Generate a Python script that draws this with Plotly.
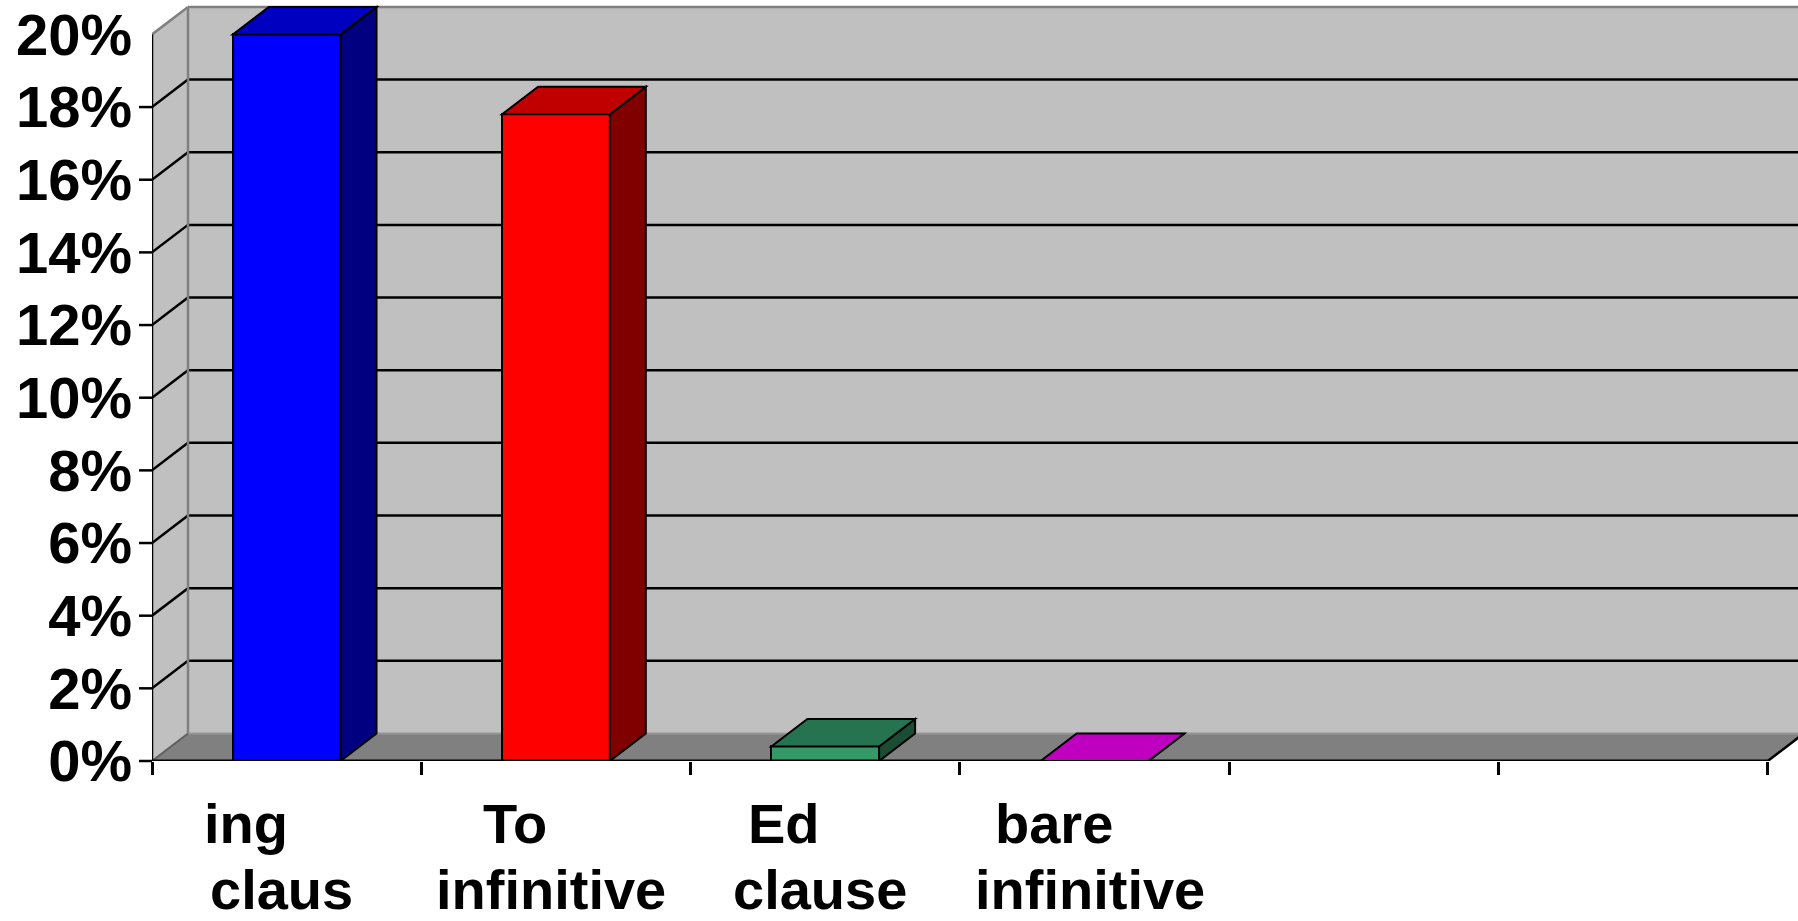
import plotly.graph_objects as go

# ---- data -------------------------------------------------------------
categories = ["ing claus", "To infinitive", "Ed clause", "bare infinitive"]
values = [20.0, 17.8, 0.4, 0.0]            # percent
front_colors = ["#0000FF", "#FF0000", "#339966", "#FF00FF"]
top_colors = ["#0000C0", "#C00000", "#267350", "#C000C0"]
side_colors = ["#000080", "#800000", "#1A4D33", "#800080"]
y_ticks = list(range(0, 21, 2))
n_slots = 6                                 # category slots on the floor

# ---- geometry ---------------------------------------------------------
W, H = 1798, 921
M_L, M_B = 152, 160
plot_w, plot_h = W - M_L, H - M_B
px_per_cat = 269.3
px_per_pct = 36.33
x_min = -0.5
x_end = x_min + n_slots                     # right end of the floor front edge
x_max = x_min + plot_w / px_per_cat
y_max = plot_h / px_per_pct
y_top = y_ticks[-1]
dx = 36 / px_per_cat                        # depth offset, category units
dy = 27.5 / px_per_pct                      # depth offset, percent units
bar_w = 0.4
half = bar_w / 2


def poly(pts):
    return "M " + " L ".join(f"{x:.5f},{y:.5f}" for x, y in pts) + " Z"


def seg(x0, y0, x1, y1, color, width, layer="below"):
    return dict(type="line", xref="x", yref="y", x0=x0, y0=y0, x1=x1, y1=y1,
                line=dict(color=color, width=width), layer=layer)


shapes = []
# back wall
shapes.append(dict(type="rect", xref="x", yref="y", x0=x_min + dx, x1=x_end + dx + 1,
                   y0=dy, y1=y_top + dy, fillcolor="#C0C0C0", line=dict(width=0),
                   layer="below"))
# left wall
shapes.append(dict(type="path", xref="x", yref="y",
                   path=poly([(x_min, 0), (x_min + dx, dy), (x_min + dx, y_top + dy), (x_min, y_top)]),
                   fillcolor="#C0C0C0", line=dict(width=0), layer="below"))
# floor
shapes.append(dict(type="path", xref="x", yref="y",
                   path=poly([(x_min, 0), (x_end, 0), (x_end + dx, dy), (x_min + dx, dy)]),
                   fillcolor="#808080", line=dict(width=0), layer="below"))
# gridlines on back and left walls
for v in y_ticks[1:-1]:
    shapes.append(seg(x_min + dx, v + dy, x_end + dx + 1, v + dy, "black", 2.5))
    shapes.append(seg(x_min, v, x_min + dx, v + dy, "black", 2.5))
# wall edges
shapes.append(seg(x_min + dx, y_top + dy, x_end + dx + 1, y_top + dy, "#808080", 2.5))
shapes.append(seg(x_min, y_top, x_min + dx, y_top + dy, "#808080", 2.5))
shapes.append(seg(x_min + dx, dy, x_min + dx, y_top + dy, "#808080", 2.5))
shapes.append(seg(x_min + dx, dy, x_end + dx + 1, dy, "#969696", 2))
shapes.append(seg(x_min, 0, x_min + dx, dy, "#606060", 2))
# front axis lines
shapes.append(seg(x_min, 0, x_min, y_top, "black", 2.5))
shapes.append(seg(x_min, 0, x_end, 0, "black", 3, layer="above"))
shapes.append(seg(x_end, 0, x_end + dx, dy, "black", 2.5, layer="above"))
# value-axis tick marks
tick_len = 13 / plot_w
for v in y_ticks[:-1]:
    shapes.append(dict(type="line", xref="paper", yref="paper", x0=-tick_len, x1=0,
                       y0=v / y_max, y1=v / y_max, line=dict(color="black", width=2.5)))

# top and side faces of the columns
for i, v in enumerate(values):
    xl, xr = i - half, i + half
    shapes.append(dict(type="path", xref="x", yref="y", layer="above",
                       path=poly([(xr, 0), (xr + dx, dy), (xr + dx, v + dy), (xr, v)]),
                       fillcolor=side_colors[i], line=dict(color="black", width=2)))
    shapes.append(dict(type="path", xref="x", yref="y", layer="above",
                       path=poly([(xl, v), (xr, v), (xr + dx, v + dy), (xl + dx, v + dy)]),
                       fillcolor=top_colors[i], line=dict(color="black", width=2)))

fig = go.Figure()
fig.add_trace(go.Bar(
    x=list(range(len(categories))), y=values, width=bar_w,
    marker=dict(color=front_colors, line=dict(color="black", width=2)),
    hoverinfo="skip", showlegend=False,
))

font_main = dict(family="Liberation Sans, Arial, sans-serif", size=56, color="black", weight="bold")
font_ticks = dict(font_main, size=58)

# two-line category labels below the floor
annotations = []
for i, name in enumerate(categories):
    first, second = name.split(" ", 1)
    annotations.append(dict(x=i, y=0, xref="x", yref="y", text=first, showarrow=False,
                            xanchor="center", yanchor="middle", xshift=-41, yshift=-62,
                            font=font_main))
    annotations.append(dict(x=i, y=0, xref="x", yref="y", text=second, showarrow=False,
                            xanchor="center", yanchor="middle", xshift=-5, yshift=-128,
                            font=font_main))

fig.update_layout(
    width=W, height=H,
    margin=dict(l=M_L, r=0, t=0, b=M_B, pad=0),
    paper_bgcolor="white", plot_bgcolor="white",
    shapes=shapes, annotations=annotations,
    bargap=0, showlegend=False,
    xaxis=dict(range=[x_min, x_max], showgrid=False, zeroline=False, showline=False,
               tickvals=[x_min + k for k in range(n_slots + 1)], ticks="outside",
               ticklen=13, tickwidth=2.5, tickcolor="black", showticklabels=False,
               fixedrange=True),
    yaxis=dict(range=[0, y_max], showgrid=False, zeroline=False, showline=False,
               tickvals=y_ticks, ticktext=[f"{v}%" for v in y_ticks], ticks="",
               ticklabelstandoff=19, tickfont=font_ticks, fixedrange=True),
)

fig.write_html("out.html", config={"displayModeBar": False})
